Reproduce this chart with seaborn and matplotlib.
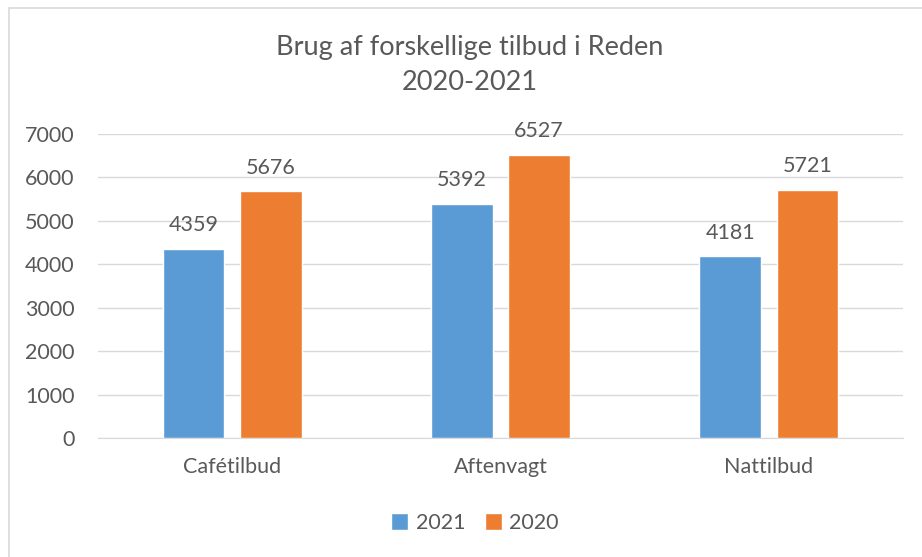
import pandas as pd
import matplotlib.pyplot as plt
import seaborn as sns
from matplotlib.patches import Rectangle

# data
categories = ['Cafétilbud', 'Aftenvagt', 'Nattilbud']
years = ['2021', '2020']
values_2021 = [4359, 5392, 4181]
values_2020 = [5676, 6527, 5721]

df = pd.DataFrame({
    'tilbud': categories * 2,
    'aar': [years[0]] * 3 + [years[1]] * 3,
    'antal': values_2021 + values_2020,
})

sns.set_style('white')
plt.rcParams['font.family'] = ['Lato', 'DejaVu Sans']
txt = '#595959'

fig = plt.figure(figsize=(9.22, 5.57), dpi=100)
ax = fig.add_axes([98 / 922, 1 - 438 / 557, (903 - 98) / 922, (438 - 134) / 557])

sns.barplot(data=df, x='tilbud', y='antal', hue='aar', hue_order=years,
            palette=['#5B9BD5', '#ED7D31'], saturation=1, width=0.575, gap=0.2,
            ax=ax, zorder=3)

for c in ax.containers:
    ax.bar_label(c, fmt='%d', padding=10, fontsize=15.5, color=txt)

ax.set_ylim(0, 7000)
ax.set_yticks(range(0, 7001, 1000))
ax.set_xlim(-0.5, 2.5)
ax.grid(axis='y', color='#D9D9D9', linewidth=1, zorder=0)
for s in ['top', 'right', 'left']:
    ax.spines[s].set_visible(False)
ax.spines['bottom'].set_color('#D9D9D9')
ax.tick_params(axis='both', length=0, labelsize=15.5, labelcolor=txt)
ax.tick_params(axis='y', pad=17)
ax.tick_params(axis='x', pad=14)
ax.set_xlabel('')
ax.set_ylabel('')

cx = 470 / 922
fig.text(cx, 1 - 47 / 557, 'Brug af forskellige tilbud i Reden', ha='center', va='center',
         fontsize=19.5, color=txt)
fig.text(cx, 1 - 83 / 557, '2020-2021', ha='center', va='center', fontsize=19.5, color=txt)

ax.legend(loc='center', bbox_to_anchor=(475 / 922, 1 - 523 / 557), bbox_transform=fig.transFigure,
          ncol=2, frameon=False, fontsize=15.5, labelcolor=txt, handlelength=0.8,
          handleheight=0.8, handletextpad=0.35, columnspacing=0.9)

fig.patches.append(Rectangle((9 / 922, -0.01), 1.0, 1 - 8 / 557 + 0.01, transform=fig.transFigure,
                             fill=False, edgecolor='#D9D9D9', linewidth=1.2))

fig.savefig('out.png', dpi=100)
